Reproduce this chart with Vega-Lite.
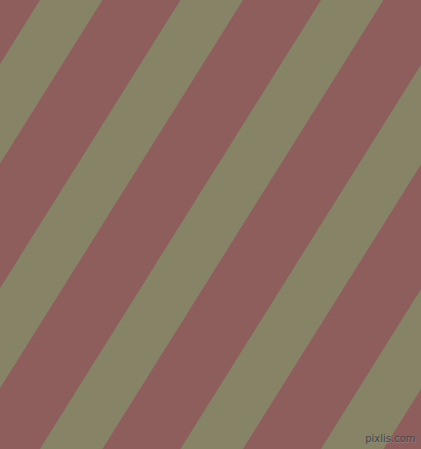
{
  "$schema": "https://vega.github.io/schema/vega-lite/v6.json",
  "width": 421,
  "height": 449,
  "autosize": {"type": "fit", "contains": "padding"},
  "padding": 0,
  "background": "#8E5E5D",
  "config": {"view": {"stroke": null}},
  "layer": [
    {
      "data": {
        "values": [
          {"stripe": 0, "x": 0, "y": 63.9, "y2": 163.7},
          {"stripe": 0, "x": 421, "y": -608.6, "y2": -508.8},
          {"stripe": 1, "x": 0, "y": 288.3, "y2": 388.2},
          {"stripe": 1, "x": 421, "y": -384.2, "y2": -284.3},
          {"stripe": 2, "x": 0, "y": 512.8, "y2": 612.6},
          {"stripe": 2, "x": 421, "y": -159.7, "y2": -59.9},
          {"stripe": 3, "x": 0, "y": 737.2, "y2": 837.1},
          {"stripe": 3, "x": 421, "y": 64.7, "y2": 164.5},
          {"stripe": 4, "x": 0, "y": 961.7, "y2": 1061.5},
          {"stripe": 4, "x": 421, "y": 289.1, "y2": 389.0}
        ]
      },
      "mark": {"type": "area", "clip": true, "color": "#868366"},
      "encoding": {
        "x": {"field": "x", "type": "quantitative", "scale": {"domain": [0, 421], "nice": false, "zero": false}, "axis": null},
        "y": {"field": "y", "type": "quantitative", "scale": {"domain": [0, 449], "nice": false, "zero": false, "reverse": true}, "axis": null},
        "y2": {"field": "y2"},
        "detail": {"field": "stripe", "type": "nominal"}
      }
    },
    {
      "data": {"values": [{"x": 391, "y": 440, "label": "pixlis.com"}]},
      "mark": {"type": "text", "font": "DejaVu Sans", "fontSize": 10, "color": "#8a8a8a", "opacity": 0.9},
      "encoding": {
        "x": {"field": "x", "type": "quantitative"},
        "y": {"field": "y", "type": "quantitative"},
        "text": {"field": "label"}
      }
    },
    {
      "data": {"values": [{"x": 391, "y": 440, "label": "pixlis.com"}]},
      "mark": {"type": "text", "font": "DejaVu Sans", "fontSize": 10, "color": "#474747", "dx": -0.6, "dy": -0.6},
      "encoding": {
        "x": {"field": "x", "type": "quantitative"},
        "y": {"field": "y", "type": "quantitative"},
        "text": {"field": "label"}
      }
    }
  ]
}
